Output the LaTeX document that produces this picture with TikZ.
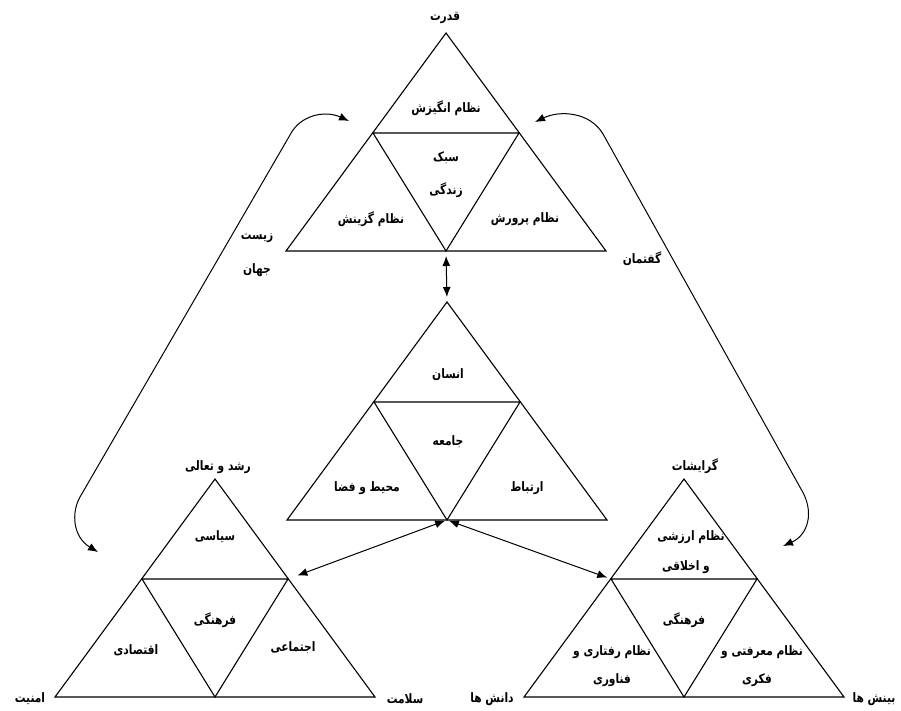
\documentclass[tikz,border=0pt]{standalone}
\usepackage{fontspec}
\usetikzlibrary{arrows.meta}
\TeXXeTstate=1
\newfontfamily\fa[Script=Arabic,FakeStretch=0.82]{DejaVu Sans}
\newcommand\fat[1]{{\fa\bfseries\beginR #1\endR}}
\newcommand\mktri[3]{%
  \coordinate (#1a) at (#2,#3);
  \coordinate (#1l) at (#2-160,#3+218);
  \coordinate (#1r) at (#2+160,#3+218);
  \coordinate (#1ml) at (#2-73,#3+100);
  \coordinate (#1mr) at (#2+73,#3+100);
  \coordinate (#1b) at (#2,#3+218);
  \draw[tri] (#1a) -- (#1r) -- (#1l) -- cycle;
  \draw[tri] (#1ml) -- (#1mr) -- (#1b) -- cycle;
}
\begin{document}
\begin{tikzpicture}[x=1pt,y=-1pt,
  lbl/.style={font=\fontsize{13}{15}\selectfont, inner sep=0pt},
  tri/.style={line width=1.1pt, line join=miter},
  con/.style={line width=1pt, {Latex[length=10pt,width=8pt]}-{Latex[length=10pt,width=8pt]}}]
\useasboundingbox[fill=white] (0,0) rectangle (901,711);

\mktri{T}{446}{33}
\mktri{M}{447}{302}
\mktri{L}{215}{479}
\mktri{R}{684}{479}

% top labels
\node[lbl] (tq) at (445,18) {\fat{قدرت}};
\node[lbl] (t1) at (446,108) {\fat{نظام انگیزش}};
\node[lbl] (t2) at (446,158) {\fat{سبک}};
\node[lbl] (t3) at (446,190) {\fat{زندگی}};
\node[lbl] (t4) at (371,219) {\fat{نظام گزینش}};
\node[lbl] (t5) at (525,219) {\fat{نظام پرورش}};

% middle labels
\node[lbl] (m1) at (448,375) {\fat{انسان}};
\node[lbl] (m2) at (448,442) {\fat{جامعه}};
\node[lbl] (m3) at (367,488) {\fat{محیط و فضا}};
\node[lbl] (m4) at (527,488) {\fat{ارتباط}};

% bottom-left labels
\node[lbl] (lq) at (218,467) {\fat{رشد و تعالی}};
\node[lbl] (l1) at (215,537) {\fat{سیاسی}};
\node[lbl] (l2) at (215,620) {\fat{فرهنگی}};
\node[lbl] (l3) at (136,650) {\fat{اقتصادی}};
\node[lbl] (l4) at (293,648) {\fat{اجتماعی}};
\node[lbl] (l5) at (30,699) {\fat{امنیت}};
\node[lbl] (l6) at (405,699) {\fat{سلامت}};

% bottom-right labels
\node[lbl] (rq) at (695,466) {\fat{گرایشات}};
\node[lbl] (r1) at (691,537) {\fat{نظام ارزشی}};
\node[lbl] (r2) at (686,567) {\fat{و اخلاقی}};
\node[lbl] (r3) at (684,620) {\fat{فرهنگی}};
\node[lbl] (r4) at (612,652) {\fat{نظام رفتاری و}};
\node[lbl] (r5) at (612,680) {\fat{فناوری}};
\node[lbl] (r6) at (762,652) {\fat{نظام معرفتی و}};
\node[lbl] (r7) at (757,680) {\fat{فکری}};
\node[lbl] (r8) at (492,699) {\fat{دانش ها}};
\node[lbl] (r9) at (874,699) {\fat{بینش ها}};

% side labels
\node[lbl] (s1) at (257,238) {\fat{زیست}};
\node[lbl] (s2) at (257,270) {\fat{جهان}};
\node[lbl] (s3) at (642,259) {\fat{گفتمان}};

% connectors
\draw[con, shorten <=5pt, shorten >=5pt] (Tb) -- (Ma);
\draw[con, shorten <=2pt, shorten >=10pt] (Mb) -- (Lmr);
\draw[con, shorten <=2pt, shorten >=4pt] (Mb) -- (Rml);

\coordinate (LcT) at (349,121);
\coordinate (LcB) at (98,552);
\coordinate (RcT) at (535,122);
\coordinate (RcB) at (783,546);
\draw[con] (LcT) .. controls (325,110) and (300,115) .. (290,135)
  -- (80,497) .. controls (71,513) and (73,537) .. (LcB);
\draw[con] (RcT) .. controls (560,110) and (590,112) .. (603,134)
  -- (801,489) .. controls (815,512) and (808,535) .. (RcB);
\end{tikzpicture}
\end{document}
